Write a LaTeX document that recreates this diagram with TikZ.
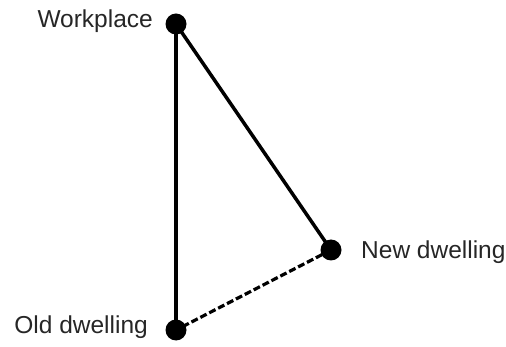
\documentclass[tikz,border=0pt]{standalone}
\usepackage{fontspec}
\setmainfont{Liberation Sans}
\begin{document}
\begin{tikzpicture}[x=1pt,y=-1pt,
  dot/.style={circle,fill=black,inner sep=0pt,minimum size=21pt},
  lbl/.style={font=\fontsize{24.5}{26}\selectfont,text=black!85,inner sep=0pt},
  solidline/.style={line width=3.5pt},
  dashline/.style={line width=3.2pt,dash pattern=on 7pt off 3pt}]
\useasboundingbox (0,0) rectangle (506,347);
\node[dot] (w) at (176,24) {};
\node[dot] (n) at (331,250) {};
\node[dot] (o) at (176,330) {};
\draw[line width=4.5pt] (w.center) -- (o.center);
\draw[solidline] (w.center) -- (n.center);
\draw[dashline] (n.center) -- (o.center);
\node[lbl,anchor=east] (wl) at (153,21) {Workplace};
\node[lbl,anchor=west] (nl) at (361,252) {New dwelling};
\node[lbl,anchor=east] (ol) at (148,327) {Old dwelling};
\end{tikzpicture}
\end{document}
